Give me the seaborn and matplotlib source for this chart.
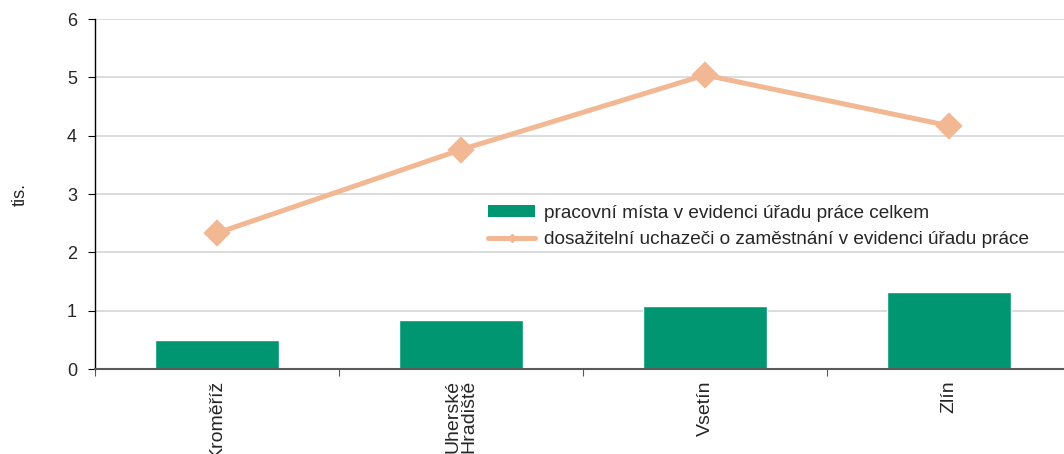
import matplotlib
matplotlib.use("Agg")
import matplotlib.pyplot as plt
from matplotlib.lines import Line2D
from matplotlib.patches import Patch
import seaborn as sns
import pandas as pd

# okresy Zlínského kraje
okresy = ["Kroměříž", "Uherské\nHradiště", "Vsetín", "Zlín"]
pracovni_mista = [0.49, 0.845, 1.075, 1.32]
uchazeci = [2.33, 3.76, 5.04, 4.17]

label_mista = "pracovní místa v evidenci úřadu práce celkem"
label_uchazeci = "dosažitelní uchazeči o zaměstnání v evidenci úřadu práce"

GREEN = "#009672"
PEACH = "#F2B893"

df = pd.DataFrame({"okres": okresy, "mista": pracovni_mista, "uchazeci": uchazeci})

sns.set_style("white")
plt.rcParams["font.family"] = ["Liberation Sans", "DejaVu Sans"]

fig = plt.figure(figsize=(10.64, 4.54), dpi=100)
ax = fig.add_axes([0.0893, 0.1872, 0.9173, 0.7709])

sns.barplot(data=df, x="okres", y="mista", color=GREEN, saturation=1,
            width=0.51, ax=ax, zorder=2)
sns.pointplot(data=df, x="okres", y="uchazeci", color=PEACH, markers="D",
              markersize=11.5, linewidth=3.6, ax=ax)
for coll in ax.collections:
    coll.set_zorder(4)
for line in ax.lines:
    line.set_zorder(4)

ax.set_ylim(0, 6)
ax.set_xlim(-0.5, 3.5)
ax.set_yticks(range(0, 7))
ax.yaxis.grid(True, color="#d9d9d9", linewidth=1.3, zorder=0)
ax.set_axisbelow(True)

ax.set_xlabel("")
ax.set_ylabel("tis.", fontsize=13)
ax.yaxis.set_label_coords(-0.068, 0.5)

ax.set_xticks(range(len(okresy)))
ax.set_xticklabels(okresy, rotation=90, va="top", ha="center", fontsize=14,
                   multialignment="left", linespacing=0.95)
ax.set_xticks([-0.5, 0.5, 1.5, 2.5, 3.5], minor=True)
ax.tick_params(axis="x", which="major", length=0, pad=8)
ax.tick_params(axis="x", which="minor", length=5, width=0.8, color="#595959",
               direction="out", bottom=True)
ax.tick_params(axis="y", length=5, width=0.8, color="black", direction="out",
               left=True, labelsize=13, pad=8)

for s in ["top", "right"]:
    ax.spines[s].set_visible(False)
ax.spines["left"].set_color("black")
ax.spines["left"].set_linewidth(1.0)
ax.spines["bottom"].set_color("#5a5a5a")
ax.spines["bottom"].set_linewidth(1.5)
ax.spines["bottom"].set_zorder(5)

handles = [
    Patch(facecolor=GREEN, edgecolor="none"),
    Line2D([], [], color=PEACH, linewidth=3.6, marker="D", markersize=4.5),
]
ax.legend(handles, [label_mista, label_uchazeci], loc="upper left",
          bbox_to_anchor=(0.403, 0.47), frameon=False, fontsize=13.7,
          handlelength=2.45, handleheight=0.65, handletextpad=0.5,
          labelspacing=0.5, borderaxespad=0, borderpad=0)

fig.savefig("out.png", dpi=100)
